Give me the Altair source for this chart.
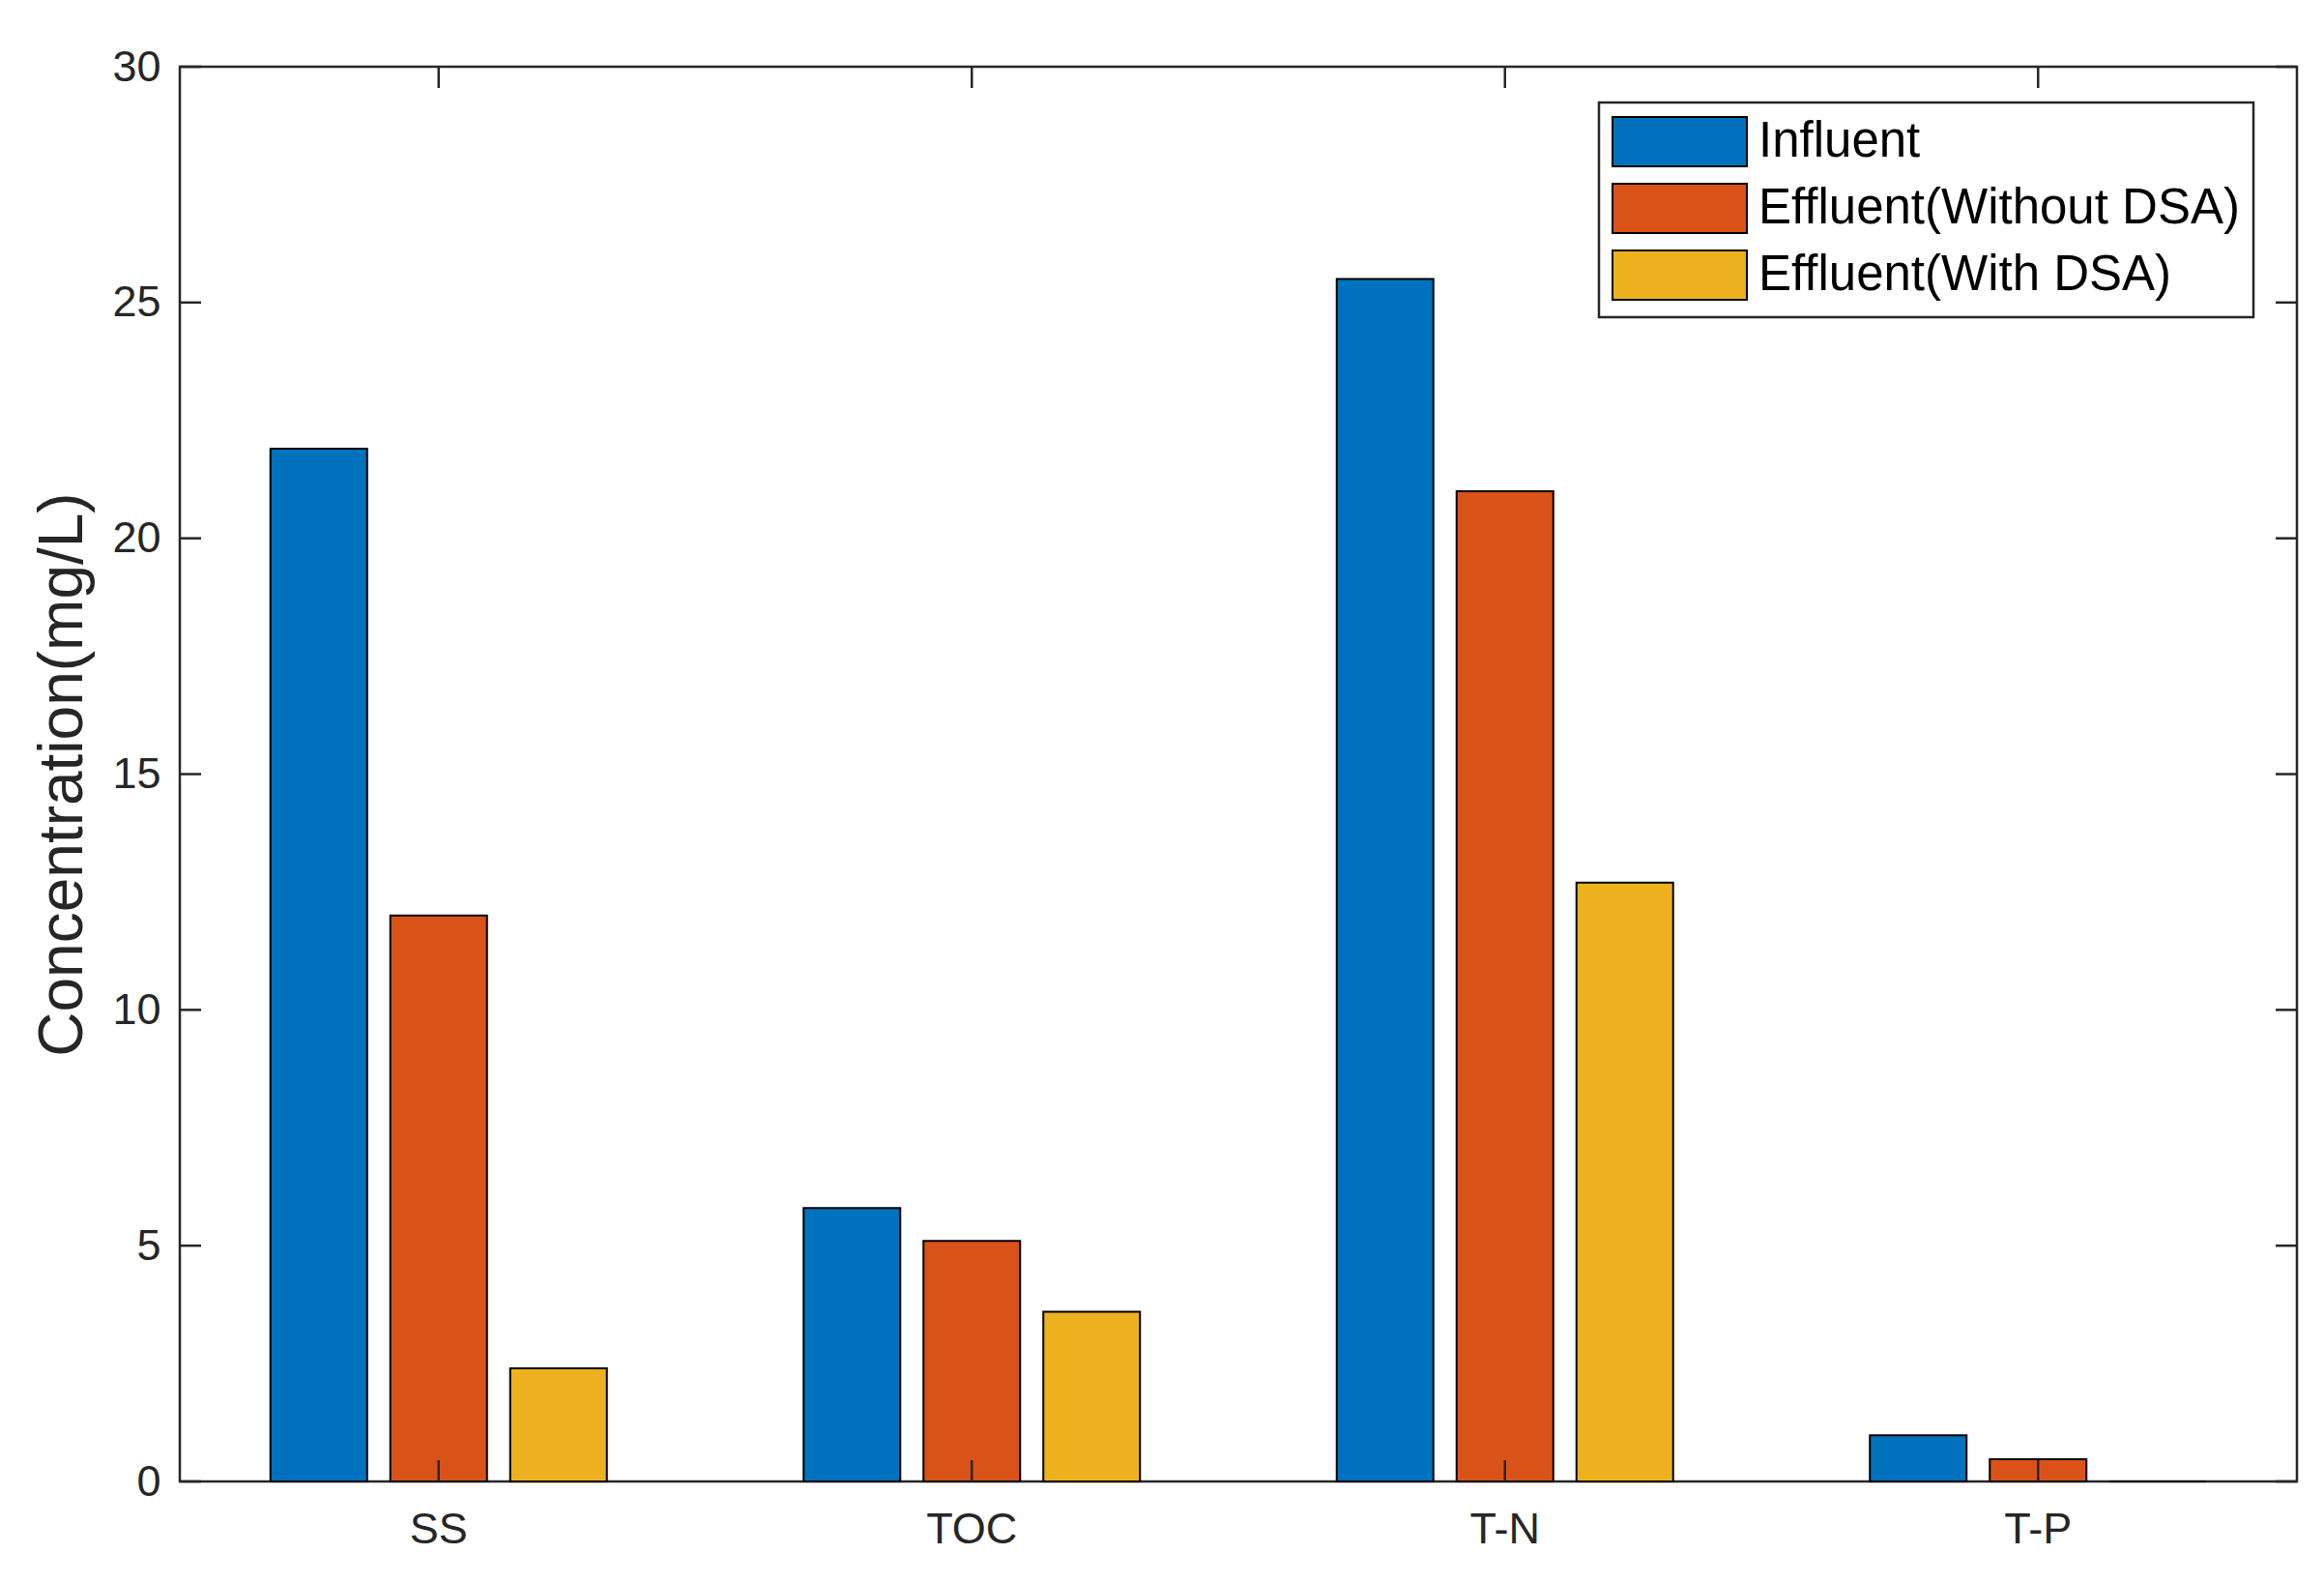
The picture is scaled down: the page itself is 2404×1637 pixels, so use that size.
import altair as alt
import pandas as pd

categories = ["SS", "TOC", "T-N", "T-P"]
series = ["Influent", "Effluent(Without DSA)", "Effluent(With DSA)"]
influent = [21.9, 5.8, 25.5, 0.98]
eff_without = [12.0, 5.1, 21.0, 0.47]
eff_with = [2.4, 3.6, 12.7, 0.0]
colors = ["#0072BD", "#D95319", "#EDB120"]
y_ticks = [0, 5, 10, 15, 20, 25, 30]

rows = []
for s, vals in zip(series, [influent, eff_without, eff_with]):
    for c, v in zip(categories, vals):
        rows.append({"category": c, "series": s, "value": v})
df = pd.DataFrame(rows)

W, H = 2190, 1463
FONT = "Liberation Sans"
AX = "#262626"
TL = 22

x_scale = alt.Scale(domain=categories, range=[-8, W + 8], paddingInner=0, paddingOuter=0)
y_scale = alt.Scale(domain=[0, 30], nice=False, zero=True)

x_axis = alt.Axis(title=None, labelAngle=0, labelFontSize=45, labelFont=FONT,
                  labelColor=AX, labelPadding=27, ticks=False, domain=False, grid=False)
y_axis = alt.Axis(values=y_ticks, title="Concentration(mg/L)", titleFontSize=64,
                  titleFont=FONT, titleFontWeight="normal", titleColor=AX,
                  titlePadding=18, labelFontSize=45, labelFont=FONT, labelColor=AX,
                  labelPadding=20, ticks=False, domain=False, grid=False)

bars = alt.Chart(df).mark_bar(stroke="black", strokeWidth=2).encode(
    x=alt.X("category:N", scale=x_scale, sort=categories, axis=x_axis),
    xOffset=alt.XOffset("series:N", sort=series,
                        scale=alt.Scale(paddingInner=0.1935, paddingOuter=0.8206)),
    y=alt.Y("value:Q", scale=y_scale, axis=y_axis),
    color=alt.Color("series:N", sort=series,
                    scale=alt.Scale(domain=series, range=colors),
                    legend=alt.Legend(title=None, orient="none", legendX=1468, legendY=37,
                                      padding=14, strokeColor=AX, fillColor="white",
                                      labelFontSize=51, labelFont=FONT, labelColor="black",
                                      labelLimit=1000,
                                      symbolType="M-2.725,-1L2.725,-1L2.725,1L-2.725,1Z",
                                      symbolSize=2601, symbolStrokeColor="black",
                                      symbolStrokeWidth=2, symbolOffset=43, labelOffset=55,
                                      rowPadding=10)),
)

ytick_df = pd.DataFrame({"value": y_ticks})
xtick_df = pd.DataFrame({"category": categories})

yt_left = alt.Chart(ytick_df).mark_rule(color=AX, strokeWidth=2.5).encode(
    y=alt.Y("value:Q", scale=y_scale, axis=y_axis), x=alt.value(0), x2=alt.value(TL))
yt_right = alt.Chart(ytick_df).mark_rule(color=AX, strokeWidth=2.5).encode(
    y=alt.Y("value:Q", scale=y_scale, axis=y_axis), x=alt.value(W - TL), x2=alt.value(W))
xt_bottom = alt.Chart(xtick_df).mark_rule(color=AX, strokeWidth=2.5).encode(
    x=alt.X("category:N", scale=x_scale, sort=categories, axis=x_axis),
    y=alt.value(H), y2=alt.value(H - TL))
xt_top = alt.Chart(xtick_df).mark_rule(color=AX, strokeWidth=2.5).encode(
    x=alt.X("category:N", scale=x_scale, sort=categories, axis=x_axis),
    y=alt.value(0), y2=alt.value(TL))

chart = alt.layer(bars, yt_left, yt_right, xt_bottom, xt_top).properties(
    width=W, height=H,
    padding={"left": 178, "top": 61, "right": 20, "bottom": 97},
    autosize=alt.AutoSizeParams(type="none"),
    background="white",
).configure_view(stroke=AX, strokeWidth=2.5).configure_legend(strokeWidth=2.5)

chart.save("out.html", embed_options={"renderer": "svg", "actions": False})
